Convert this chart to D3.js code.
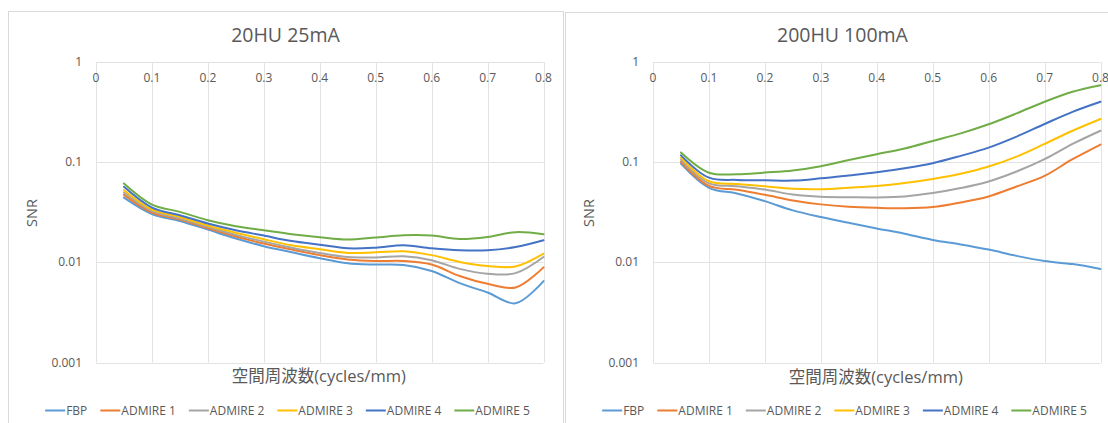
<!DOCTYPE html>
<html>
<head>
<meta charset="utf-8">
<script src="https://cdn.jsdelivr.net/npm/d3@7"></script>
<style>
  html, body { margin: 0; padding: 0; background: #ffffff; }
  svg { display: block; }
  text { font-family: "Open Sans", "Noto Sans CJK JP", sans-serif; fill: #595959; }
</style>
</head>
<body>
<svg id="chart" width="1108" height="423"></svg>
<script>
// ---------- data ----------
const freq = [0.05, 0.1, 0.15, 0.2, 0.25, 0.3, 0.35, 0.4, 0.45, 0.5, 0.55, 0.6, 0.65, 0.7, 0.75, 0.8];
const seriesNames = ["FBP", "ADMIRE 1", "ADMIRE 2", "ADMIRE 3", "ADMIRE 4", "ADMIRE 5"];
const seriesColors = ["#5B9BD5", "#ED7D31", "#A5A5A5", "#FFC000", "#4472C4", "#70AD47"];
const xTicks = [0, 0.1, 0.2, 0.3, 0.4, 0.5, 0.6, 0.7, 0.8];
const xTickLabels = ["0", "0.1", "0.2", "0.3", "0.4", "0.5", "0.6", "0.7", "0.8"];
const yTicks = [1, 0.1, 0.01, 0.001];
const yTickLabels = ["1", "0.1", "0.01", "0.001"];
const titles = ["20HU 25mA", "200HU 100mA"];
const xAxisTitle = "空間周波数(cycles/mm)";
const yAxisTitle = "SNR";

// 20HU 25mA
const low_FBP = [0.0443, 0.0304, 0.0259, 0.0212, 0.0173, 0.0145, 0.0126, 0.0110, 0.0098, 0.0095, 0.0094, 0.0082, 0.0062, 0.0050, 0.0039, 0.0065];
const low_A1  = [0.0471, 0.0314, 0.0267, 0.0219, 0.0181, 0.0154, 0.0134, 0.0118, 0.0107, 0.0103, 0.0103, 0.0095, 0.0073, 0.0061, 0.0056, 0.0089];
const low_A2  = [0.0497, 0.0324, 0.0273, 0.0226, 0.0188, 0.0161, 0.0140, 0.0124, 0.0113, 0.0112, 0.0115, 0.0105, 0.0086, 0.0077, 0.0078, 0.0113];
const low_A3  = [0.0525, 0.0336, 0.0284, 0.0233, 0.0197, 0.0170, 0.0148, 0.0135, 0.0124, 0.0126, 0.0129, 0.0118, 0.0101, 0.0092, 0.0091, 0.0122];
const low_A4  = [0.0567, 0.0352, 0.0295, 0.0244, 0.0209, 0.0185, 0.0163, 0.0150, 0.0138, 0.0140, 0.0148, 0.0138, 0.0132, 0.0132, 0.0142, 0.0166];
const low_A5  = [0.0612, 0.0377, 0.0319, 0.0263, 0.0229, 0.0209, 0.0191, 0.0178, 0.0169, 0.0177, 0.0186, 0.0185, 0.0171, 0.0179, 0.0200, 0.0191];

// 200HU 100mA
const high_FBP = [0.0966, 0.0555, 0.0487, 0.0408, 0.0330, 0.0283, 0.0248, 0.0218, 0.0193, 0.0167, 0.0151, 0.0134, 0.0116, 0.0103, 0.0096, 0.0086];
const high_A1  = [0.101, 0.0580, 0.0530, 0.0472, 0.0415, 0.0379, 0.0359, 0.0350, 0.0346, 0.0356, 0.0396, 0.0455, 0.0572, 0.073, 0.107, 0.150];
const high_A2  = [0.106, 0.0615, 0.0575, 0.0533, 0.0475, 0.0451, 0.0447, 0.0445, 0.0455, 0.0491, 0.0551, 0.0641, 0.0806, 0.107, 0.152, 0.206];
const high_A3  = [0.111, 0.0645, 0.0607, 0.0575, 0.0542, 0.0537, 0.0556, 0.0578, 0.0618, 0.0678, 0.0765, 0.0904, 0.1137, 0.152, 0.206, 0.270];
const high_A4  = [0.117, 0.0700, 0.0665, 0.0660, 0.0655, 0.0690, 0.0738, 0.0793, 0.0871, 0.0977, 0.1156, 0.1397, 0.180, 0.2405, 0.318, 0.401];
const high_A5  = [0.125, 0.0785, 0.0757, 0.0787, 0.0824, 0.0910, 0.105, 0.120, 0.137, 0.163, 0.194, 0.239, 0.307, 0.401, 0.505, 0.587];

const panelsData = [
  [low_FBP, low_A1, low_A2, low_A3, low_A4, low_A5],
  [high_FBP, high_A1, high_A2, high_A3, high_A4, high_A5]
];

// ---------- drawing ----------
const svg = d3.select("#chart");
svg.append("rect").attr("x", 0).attr("y", 0).attr("width", 1108).attr("height", 423).attr("fill", "#fff");

const panelLeft = [8, 565];
const panelTop = [11, 12];
const panelW = 555;

function drawPanel(i) {
  const px = panelLeft[i], py = panelTop[i];
  const g = svg.append("g");
  // panel border
  g.append("rect")
    .attr("x", px + 0.5).attr("y", py + 0.5)
    .attr("width", panelW).attr("height", 440)
    .attr("fill", "#fff").attr("stroke", "#d9d9d9").attr("stroke-width", 1);

  const x0 = px + 88, x1 = px + 535.5;
  const yTop = 62, yBot = 362.5;
  const x = d3.scaleLinear().domain([0, 0.8]).range([x0, x1]);
  const y = d3.scaleLog().domain([0.001, 1]).range([yBot, yTop]);

  // gridlines
  const grid = g.append("g");
  grid.selectAll("line.v").data(xTicks).join("line")
    .attr("x1", d => Math.round(x(d)) + 0.5).attr("x2", d => Math.round(x(d)) + 0.5)
    .attr("y1", yTop).attr("y2", yBot)
    .attr("stroke", "#e3e3e3").attr("stroke-width", 1);
  grid.selectAll("line.h").data(yTicks).join("line")
    .attr("x1", x0).attr("x2", x1)
    .attr("y1", d => Math.round(y(d)) + 0.5).attr("y2", d => Math.round(y(d)) + 0.5)
    .attr("stroke", "#e3e3e3").attr("stroke-width", 1);

  // x tick labels (axis crosses at top)
  g.selectAll("text.xt").data(xTicks).join("text")
    .attr("x", d => x(d)).attr("y", 82)
    .attr("text-anchor", "middle")
    .style("font-size", "12px")
    .text((d, k) => xTickLabels[k]);

  // y tick labels
  g.selectAll("text.yt").data(yTicks).join("text")
    .attr("x", x0 - 14).attr("y", d => y(d) + 4)
    .attr("text-anchor", "end")
    .style("font-size", "12px")
    .text((d, k) => yTickLabels[k]);

  // title
  g.append("text")
    .attr("x", px + panelW / 2).attr("y", 41.5 + (i ? 0.5 : 0))
    .attr("text-anchor", "middle")
    .style("font-size", "19.5px")
    .text(titles[i]);

  // axis titles
  g.append("text")
    .attr("x", (x0 + x1) / 2 - 1).attr("y", 382 + i)
    .attr("text-anchor", "middle")
    .style("font-size", "16.5px")
    .text(xAxisTitle);
  g.append("text")
    .attr("transform", `translate(${px + 29},${213}) rotate(-90)`)
    .attr("text-anchor", "middle")
    .style("font-size", "14.5px")
    .text(yAxisTitle);

  // series
  const line = d3.line()
    .x((d, k) => x(freq[k]))
    .y(d => y(d))
    .curve(d3.curveCatmullRom.alpha(0.5));
  g.append("g").selectAll("path").data(panelsData[i]).join("path")
    .attr("d", d => line(d))
    .attr("fill", "none")
    .attr("stroke", (d, k) => seriesColors[k])
    .attr("stroke-width", 2)
    .attr("stroke-linejoin", "round")
    .attr("stroke-linecap", "round");

  // legend
  const lg = g.append("g");
  const items = lg.selectAll("g").data(seriesNames).join("g");
  items.append("line")
    .attr("x1", 0).attr("x2", 20).attr("y1", 0).attr("y2", 0)
    .attr("stroke", (d, k) => seriesColors[k]).attr("stroke-width", 2);
  items.append("text")
    .attr("x", 21).attr("y", 4.5)
    .style("font-size", "12px")
    .text(d => d);
  let cur = 0;
  const gap = 13;
  items.each(function () {
    const w = 21 + d3.select(this).select("text").node().getComputedTextLength();
    d3.select(this).attr("transform", `translate(${cur},0)`);
    cur += w + gap;
  });
  const total = cur - gap;
  lg.attr("transform", `translate(${px + panelW / 2 + 2 - total / 2},${410.5})`);
}

drawPanel(0);
drawPanel(1);
</script>
</body>
</html>
